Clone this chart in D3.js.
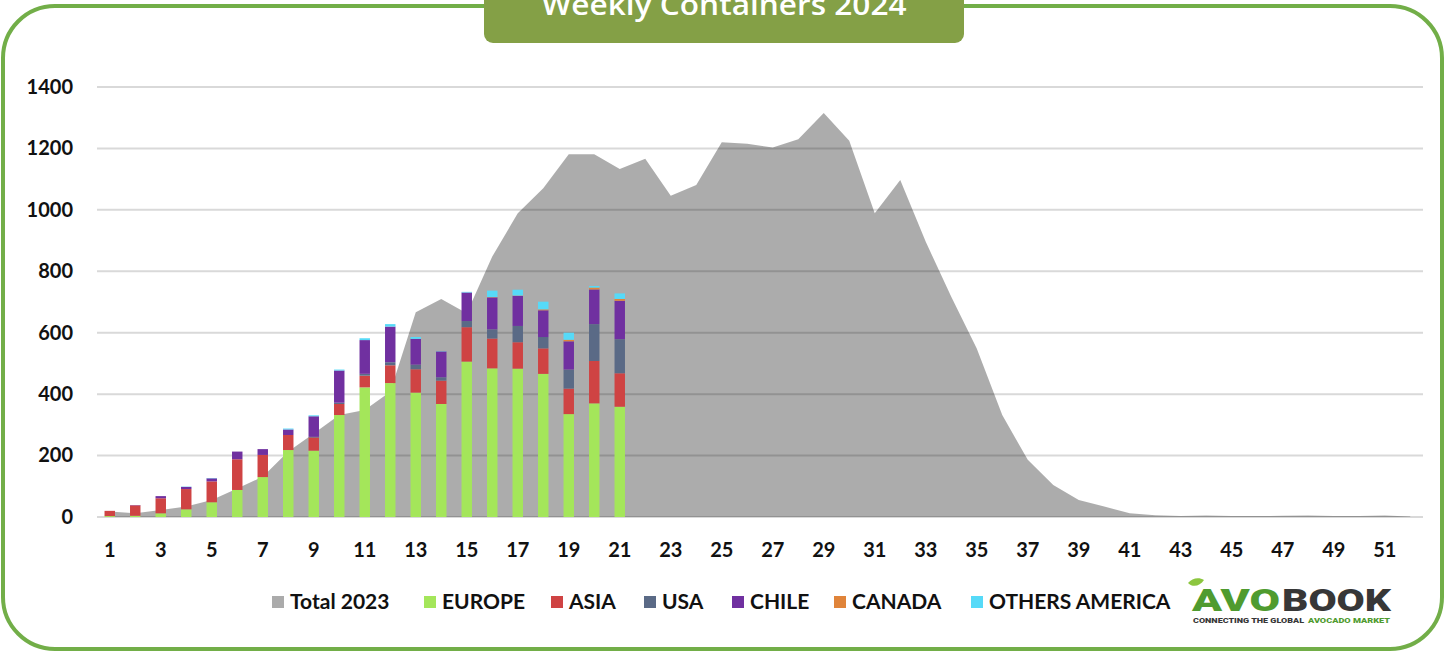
<!DOCTYPE html>
<html><head><meta charset="utf-8">
<script src="https://cdn.jsdelivr.net/npm/d3@7"></script>
<style>html,body{margin:0;padding:0;background:#fff;overflow:hidden} svg{display:block}</style>
</head><body>
<svg id="c" width="1445" height="652"></svg>
<script>
// ---- data ----
const weeks = [1,2,3,4,5,6,7,8,9,10,11,12,13,14,15,16,17,18,19,20,21,22,23,24,25,26,27,28,29,30,31,32,33,34,35,36,37,38,39,40,41,42,43,44,45,46,47,48,49,50,51,52];
const total2023 = [18,12,23,34,55,93,131,213,272,332,348,408,667,710,663,848,989,1070,1181,1181,1133,1166,1046,1081,1220,1215,1203,1230,1315,1225,989,1097,896,717,549,332,186,104,55,34,12,6,3,5,3,3,4,5,3,3,5,2];
const weeks2024 = [1,2,3,4,5,6,7,8,9,10,11,12,13,14,15,16,17,18,19,20,21];
const europe = [3,4,12,25,48,88,130,218,216,332,422,436,405,368,506,484,483,466,335,370,359];
const asia   = [17,34,49,66,68,100,72,49,43,36,38,58,76,76,112,97,86,83,83,138,109];
const usa    = [0,0,0,0,0,0,0,0,2,4,6,10,15,11,20,30,53,37,62,120,111];
const chile  = [0,1,7,7,10,25,19,18,67,105,110,116,84,84,93,104,98,87,92,113,125];
const canada = [0,0,0,0,0,0,0,0,0,0,0,0,0,0,0,1,1,3,5,6,6];
const others = [0,0,0,1,1,0,0,3,3,3,6,8,6,1,2,21,19,25,23,5,18];
const seriesNames = ["EUROPE","ASIA","USA","CHILE","CANADA","OTHERS AMERICA"];
const seriesColors = ["#a4e65a","#cf4343","#5a6a86","#7030a0","#e0843a","#56daf8"];
const totalName = "Total 2023";
const yTicks = [0,200,400,600,800,1000,1200,1400];
const xTickLabels = [1,3,5,7,9,11,13,15,17,19,21,23,25,27,29,31,33,35,37,39,41,43,45,47,49,51];
const title = "Weekly Containers 2024";

// ---- layout ----
const svg = d3.select("#c");
const FONT = "Lato, 'Open Sans', sans-serif";
const L = 97, R = 1423, T = 87, B = 517;

// frame
svg.append("rect").attr("x",3).attr("y",6).attr("width",1439).attr("height",643)
  .attr("rx",52).attr("ry",52).attr("fill","none").attr("stroke","#72ae48").attr("stroke-width",4);

const x = d3.scaleBand().domain(weeks).range([L,R]).paddingInner(0.59).paddingOuter(0.295);
const y = d3.scaleLinear().domain([0,1400]).range([B,T]);
const bw = x.bandwidth();

// gridlines
svg.append("g").selectAll("line").data(yTicks).join("line")
  .attr("x1",L).attr("x2",R).attr("y1",d=>y(d)).attr("y2",d=>y(d))
  .attr("stroke","#d9d9d9").attr("stroke-width",2);

// area total 2023
const area = d3.area().x((d,i)=>x(weeks[i])+bw/2).y0(y(0)).y1(d=>y(d));
svg.append("path").datum(total2023).attr("d",area).attr("fill","#000").attr("fill-opacity",0.325);

// stacked bars
const rows = weeks2024.map((w,i)=>({week:w,"EUROPE":europe[i],"ASIA":asia[i],"USA":usa[i],"CHILE":chile[i],"CANADA":canada[i],"OTHERS AMERICA":others[i]}));
const stacked = d3.stack().keys(seriesNames)(rows);
const color = d3.scaleOrdinal().domain(seriesNames).range(seriesColors);
svg.append("g").selectAll("g").data(stacked).join("g").attr("fill",d=>color(d.key))
  .selectAll("rect").data(d=>d).join("rect")
  .attr("x",d=>x(d.data.week)).attr("width",bw)
  .attr("y",d=>y(d[1])).attr("height",d=>Math.max(0,y(d[0])-y(d[1])));

// axes
const yAxis = svg.append("g").attr("transform",`translate(${L},0)`)
  .call(d3.axisLeft(y).tickValues(yTicks).tickFormat(d3.format("d")).tickSize(0).tickPadding(24));
yAxis.select(".domain").remove();
yAxis.selectAll("text").attr("font-family",FONT).attr("font-weight",700).attr("font-size",20).attr("fill","#111");

const xAxis = svg.append("g").attr("transform",`translate(0,${B})`)
  .call(d3.axisBottom(x).tickValues(xTickLabels).tickSize(0).tickPadding(26));
xAxis.select(".domain").remove();
xAxis.selectAll("text").attr("font-family",FONT).attr("font-weight",700).attr("font-size",20).attr("fill","#111");

// title box
svg.append("rect").attr("x",484).attr("y",-12).attr("width",480).attr("height",55).attr("rx",9)
  .attr("fill","#84a046");
svg.append("text").attr("x",724).attr("y",15).attr("text-anchor","middle")
  .attr("font-family","'Open Sans', sans-serif").attr("font-weight",600).attr("font-size",28).attr("fill","#fff")
  .attr("textLength",365).attr("lengthAdjust","spacingAndGlyphs").text(title);

// legend
const legItems = [{name:totalName,color:"#ababab"}].concat(seriesNames.map((n,i)=>({name:n,color:seriesColors[i]})));
const legX = [272,424,551,644,732,834,971];
const lg = svg.append("g");
legItems.forEach((d,i)=>{
  lg.append("rect").attr("x",legX[i]).attr("y",596).attr("width",12).attr("height",12).attr("fill",d.color);
  lg.append("text").attr("x",legX[i]+18).attr("y",609).attr("font-family",FONT).attr("font-weight",700)
    .attr("font-size",21).attr("fill","#111").text(d.name);
});

// logo
const logo = svg.append("g");
logo.append("path").attr("d","M1188,583 C1192,578 1199,577 1204,580 C1200,586 1193,588 1188,583 Z").attr("fill","#8cc63f");
logo.append("text").attr("x",1192).attr("y",611).attr("font-family","Roboto, sans-serif")
  .attr("font-weight",900).attr("font-size",31).attr("textLength",88).attr("lengthAdjust","spacingAndGlyphs")
  .attr("fill","#4f9b2f").text("AVO");
logo.append("text").attr("x",1282).attr("y",611).attr("font-family","Roboto, sans-serif")
  .attr("font-weight",900).attr("font-size",31).attr("textLength",109).attr("lengthAdjust","spacingAndGlyphs")
  .attr("fill","#373737").text("BOOK");
logo.append("text").attr("x",1193).attr("y",623).attr("font-family","Roboto, sans-serif")
  .attr("font-weight",900).attr("font-size",8).attr("textLength",111).attr("lengthAdjust","spacingAndGlyphs")
  .attr("fill","#373737").text("CONNECTING THE GLOBAL");
logo.append("text").attr("x",1308).attr("y",623).attr("font-family","Roboto, sans-serif")
  .attr("font-weight",900).attr("font-size",8).attr("textLength",82).attr("lengthAdjust","spacingAndGlyphs")
  .attr("fill","#4f9b2f").text("AVOCADO MARKET");
</script>
</body></html>
